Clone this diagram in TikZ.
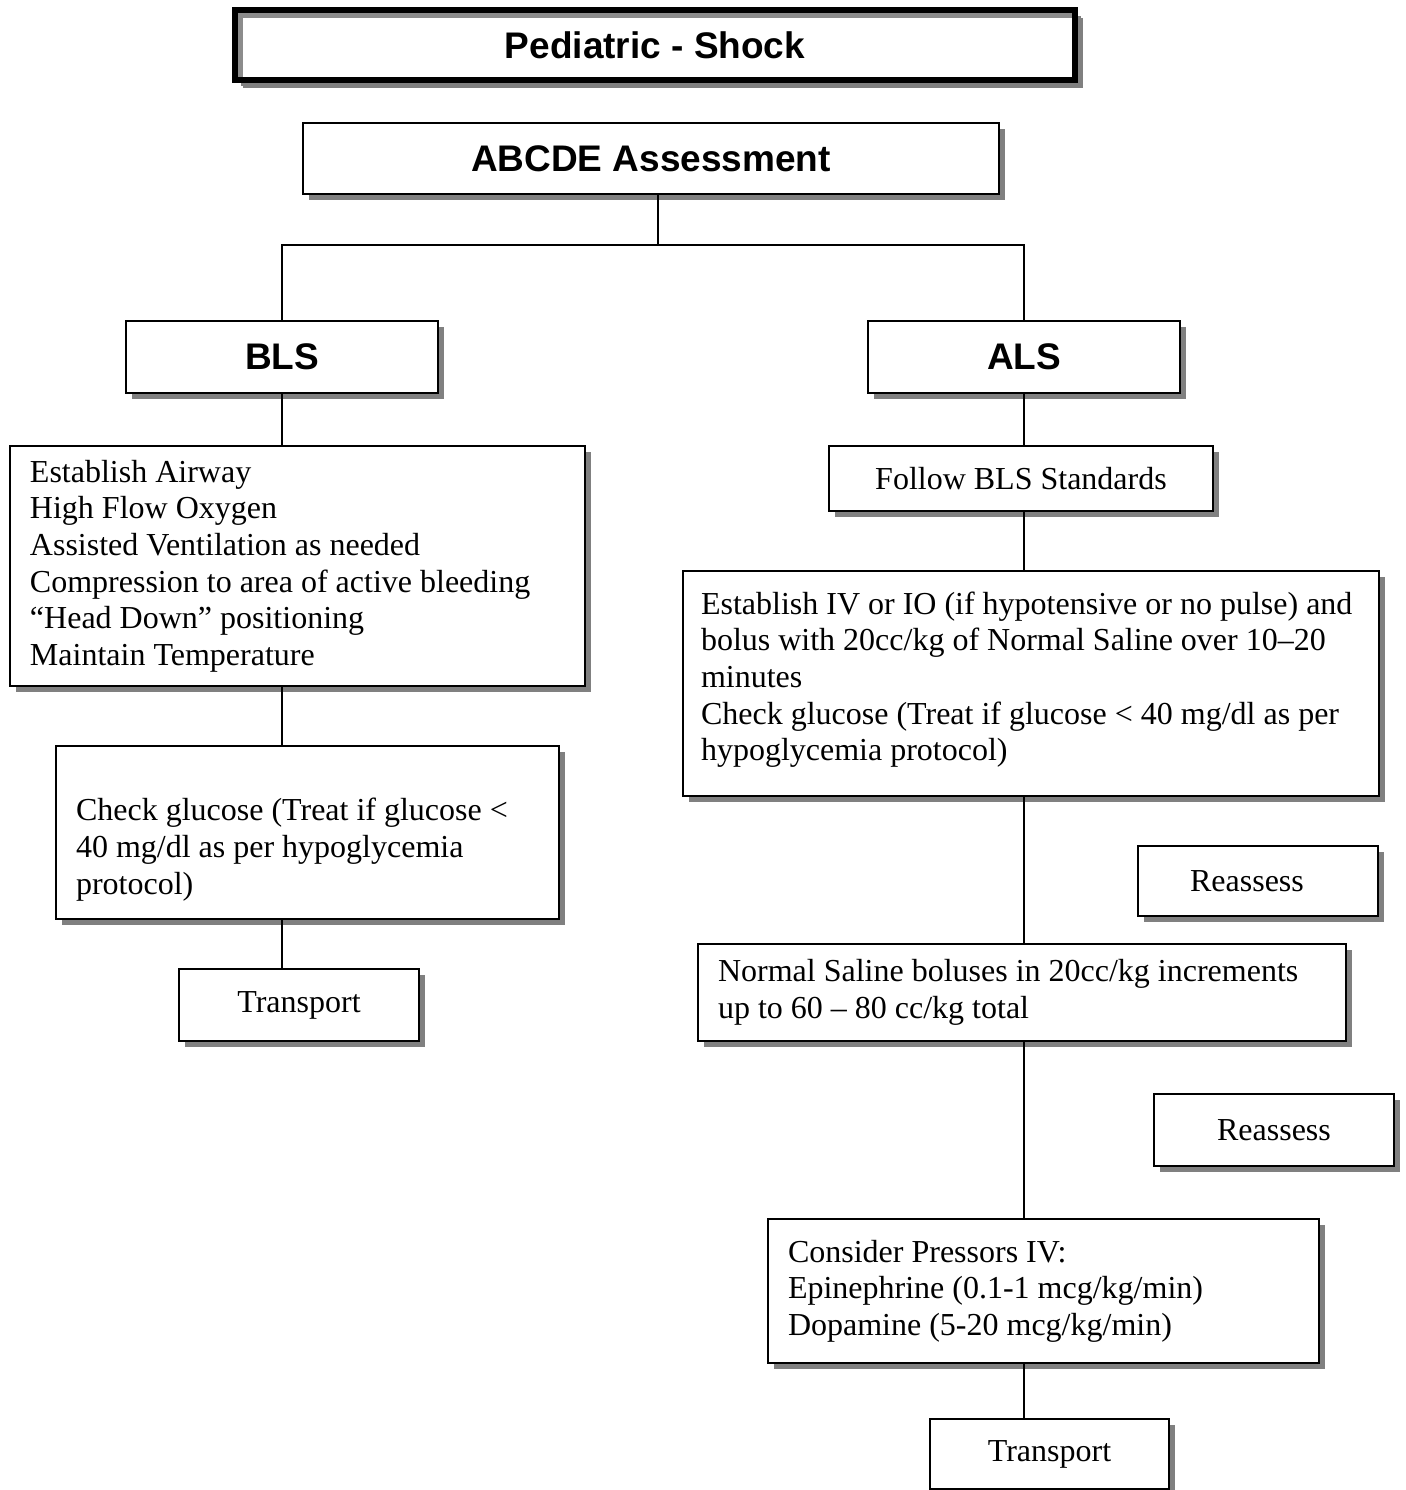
\documentclass[tikz,border=0pt]{standalone}
\usepackage{fontspec}
\setmainfont{Liberation Serif}
\setsansfont{Liberation Sans}
\usetikzlibrary{shadows}

\begin{document}
\begin{tikzpicture}[x=0.5pt,y=-0.5pt,
    box/.style={draw, line width=1pt, fill=white, inner sep=0pt, anchor=north west,
      drop shadow={shadow xshift=3pt,shadow yshift=-3pt,fill=black!50,opacity=1}},
    head/.style={box, font=\sffamily\bfseries\fontsize{18.5}{22}\selectfont},
    txt/.style={box, font=\fontsize{16}{18.3}\selectfont, align=flush left, inner xsep=10pt},
    mid/.style={box, font=\fontsize{16}{18.3}\selectfont, align=center},
    title/.style={head, line width=3pt,
      drop shadow={shadow xshift=4pt,shadow yshift=-4pt,fill=black!50,opacity=1},
      path picture={\draw[black!45,line width=2.5pt]
        ([xshift=2.75pt]path picture bounding box.south west) |-
        ([yshift=-2.75pt]path picture bounding box.north east);}},
    link/.style={line width=1pt}]
  \useasboundingbox (0,0) rectangle (1405,1490);

  % Heading boxes
  \node[title, minimum width=420pt, minimum height=35pt] (title) at (232,7) {Pediatric - Shock};
  \node[head, minimum width=348pt, minimum height=35.5pt] (abcde) at (302,122) {ABCDE Assessment};
  \node[head, minimum width=156pt, minimum height=36pt] (bls) at (125,320) {BLS};
  \node[head, minimum width=156pt, minimum height=36pt] (als) at (867,320) {ALS};

  % BLS side
  \node[txt, text width=267.5pt, minimum height=120pt] (list) at (9,445)
    {Establish Airway\\High Flow Oxygen\\Assisted Ventilation as needed\\Compression to area of active bleeding\\``Head Down'' positioning\\Maintain Temperature};
  \node[txt, text width=231.5pt, minimum height=86.5pt] (gluc) at (55,745)
    {\mbox{}\\[10pt]Check glucose (Treat if glucose <\\40 mg/dl as per hypoglycemia\\protocol)};
  \node[mid, minimum width=120pt, minimum height=36pt] (trans1) at (178,968) {Transport};

  % ALS side
  \node[mid, minimum width=192pt, minimum height=32.5pt] (follow) at (828,445) {Follow BLS Standards};
  \node[txt, inner xsep=9pt, text width=330pt, minimum height=112.5pt] (iv) at (682,570)
    {Establish IV or IO (if hypotensive or no pulse) and\\bolus with 20cc/kg of Normal Saline over 10--20\\minutes\\Check glucose (Treat if glucose < 40 mg/dl as per\\hypoglycemia protocol)\\[-11pt]\mbox{}};
  \node[mid, minimum width=120pt, minimum height=35pt] (reas1) at (1137,845) {Reassess\hspace*{11pt}};
  \node[txt, text width=304pt, minimum height=48.5pt] (saline) at (697,943)
    {Normal Saline boluses in 20cc/kg increments\\up to 60 -- 80 cc/kg total};
  \node[mid, minimum width=120pt, minimum height=36pt] (reas2) at (1153,1093) {Reassess};
  \node[txt, text width=255.5pt, minimum height=72pt] (press) at (767,1218)
    {Consider Pressors IV:\\Epinephrine (0.1-1 mcg/kg/min)\\Dopamine (5-20 mcg/kg/min)};
  \node[mid, minimum width=119.5pt, minimum height=35pt] (trans2) at (929,1418) {Transport};

  % Connectors
  \coordinate (split) at (658,245);
  \draw[link] (abcde.south -| split) -- (split);
  \draw[link] (bls.north) |- (split) -| (als.north);
  \draw[link] (bls.south) -- (bls.south |- list.north);
  \draw[link] (bls.south |- list.south) -- (bls.south |- gluc.north);
  \draw[link] (bls.south |- gluc.south) -- (bls.south |- trans1.north);
  \draw[link] (als.south) -- (als.south |- follow.north);
  \draw[link] (als.south |- follow.south) -- (als.south |- iv.north);
  \draw[link] (als.south |- iv.south) -- (als.south |- saline.north);
  \draw[link] (als.south |- saline.south) -- (als.south |- press.north);
  \draw[link] (als.south |- press.south) -- (als.south |- trans2.north);
\end{tikzpicture}
\end{document}
